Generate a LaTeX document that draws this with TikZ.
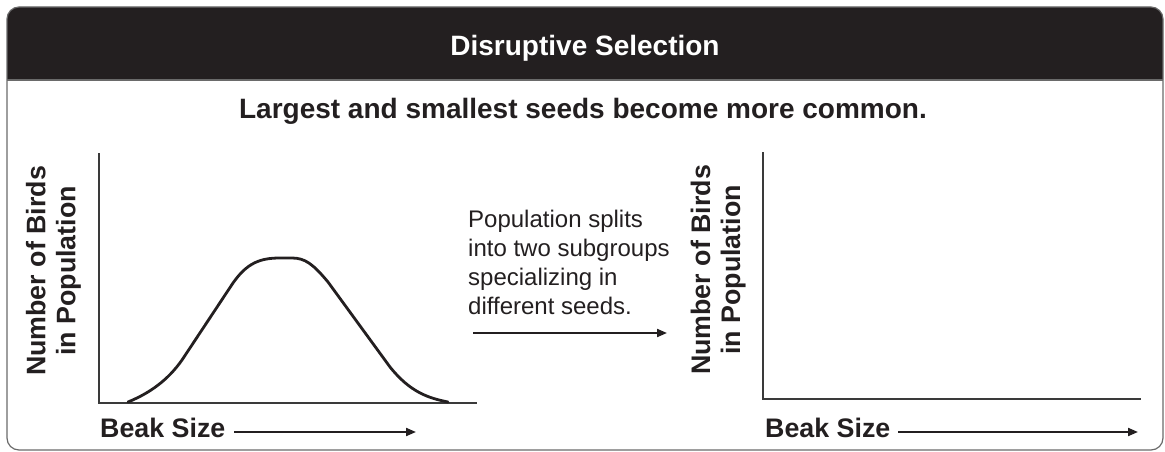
\documentclass[tikz,border=0pt]{standalone}
\usepackage{fontspec}
\setmainfont{Liberation Sans}
\usetikzlibrary{arrows.meta}
\definecolor{ink}{HTML}{231F20}
\definecolor{framec}{HTML}{6A6A6A}
\definecolor{axisc}{HTML}{3A3A3A}
\begin{document}
\begin{tikzpicture}[x=1pt,y=-1pt,
  title/.style={font=\fontsize{28}{30}\selectfont\bfseries, text=white, inner sep=0pt},
  head/.style={font=\fontsize{28}{30}\selectfont\bfseries, text=ink, inner sep=0pt},
  lbl/.style={font=\fontsize{26.8}{30}\selectfont\bfseries, text=ink, inner sep=0pt},
  note/.style={font=\fontsize{24}{29}\selectfont, text=ink, inner sep=0pt, align=left},
  axisline/.style={draw=axisc, line width=1.3pt},
  curveline/.style={draw=ink, line width=2.8pt, line cap=round},
  arr/.style={draw=ink, line width=2pt, -{Triangle[length=10pt,width=8pt]}}]
\useasboundingbox (0,0) rectangle (1165,452);
% header band
\begin{scope}
  \clip (0,0) rectangle (1165,80);
  \fill[ink, rounded corners=12pt] (7,7) rectangle (1163,450);
\end{scope}
\draw[framec, line width=1.2pt, rounded corners=12pt] (7,7) rectangle (1163,450);
\draw[framec, line width=1.2pt] (7,80) -- (1163,80);
% titles
\node[title, anchor=base] (ttl) at (585,56) {Disruptive Selection};
\node[head, anchor=base] (sub) at (583,118) {Largest and smallest seeds become more common.};
% left graph
\coordinate (ly) at (99,153);
\coordinate (lo) at (99,403);
\coordinate (lx) at (477,403);
\draw[axisline] (ly) -- (lo) -- (lx);
\draw[curveline] (128,402) .. controls (150,393) and (168,380) .. (182,360)
  -- (233,283) .. controls (247,263) and (260,258) .. (280,258)
  -- (292,258) .. controls (305,258) and (313,264) .. (328,282)
  -- (390,367) .. controls (410,392) and (428,398) .. (448,402);
\node[lbl, rotate=90, align=center, anchor=north] (lyl) at (25.7,271) {Number of Birds\\in Population};
\node[lbl, anchor=base west] (lbs) at (100,437) {Beak Size};
\coordinate (la1) at (234,432);
\coordinate (la2) at (416,432);
\draw[arr] (la1) -- (la2);
% middle
\node[note, anchor=north west] (mid) at (468,210) {Population splits\\into two subgroups\\specializing in\\different seeds.};
\coordinate (ma1) at (473,333);
\coordinate (ma2) at (667,333);
\draw[arr] (ma1) -- (ma2);
% right graph
\coordinate (ry) at (763,152);
\coordinate (ro) at (763,399);
\coordinate (rx) at (1141,399);
\draw[axisline] (ry) -- (ro) -- (rx);
\node[lbl, rotate=90, align=center, anchor=north] (ryl) at (690.5,270) {Number of Birds\\in Population};
\node[lbl, anchor=base west] (rbs) at (765,437) {Beak Size};
\coordinate (ra1) at (898,432);
\coordinate (ra2) at (1138,432);
\draw[arr] (ra1) -- (ra2);
\end{tikzpicture}
\end{document}
